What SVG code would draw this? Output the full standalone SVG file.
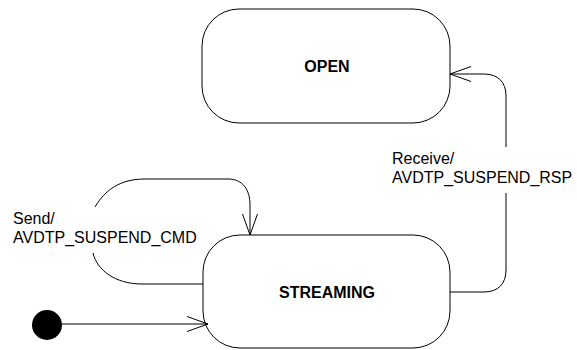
<svg xmlns="http://www.w3.org/2000/svg" width="577" height="350" viewBox="0 0 577 350">
<style>
.node{fill:#fff;stroke:#000;stroke-width:1}
.title{font-family:"Liberation Sans",Arial,sans-serif;font-size:16px;font-weight:bold;text-anchor:middle;fill:#000}
.lbl{font-family:"Liberation Sans",Arial,sans-serif;font-size:16px;fill:#000}
.edge{fill:none;stroke:#000;stroke-width:1}
</style>
<defs>
<marker id="arr" markerUnits="userSpaceOnUse" orient="auto" overflow="visible" markerWidth="1" markerHeight="1" refX="0" refY="0">
<path d="M-21,-7.5 L0,0 L-21,7.5" fill="none" stroke="#000" stroke-width="1"/>
</marker>
</defs>
<rect width="577" height="350" fill="#fff"/>
<g id="open">
<rect class="node" x="202" y="9" width="248" height="114" rx="37" ry="37"/>
<text class="title" x="327" y="72">OPEN</text>
</g>
<g id="streaming">
<rect class="node" x="203" y="235" width="247" height="113" rx="37" ry="37"/>
<text class="title" x="327" y="298">STREAMING</text>
</g>
<g id="initial">
<circle cx="47" cy="325" r="15" fill="#000"/>
</g>
<g id="connectors">
<path class="edge" d="M62,324 L208,324" marker-end="url(#arr)"/>
<path class="edge" d="M203,284 H142 C115,284 97,270 93,253"/>
<path class="edge" d="M95,207 C105,190 120,179 145,179 H228 C243,179 250,190 250,205 V235" marker-end="url(#arr)"/>
<path class="edge" d="M450,292 H484 C498,292 506,284 506,270 V193"/>
<path class="edge" d="M506,147 V96 C506,82 498,74 484,74 H450" marker-end="url(#arr)"/>
<text class="lbl" x="13" y="224">Send/</text>
<text class="lbl" x="13" y="243">AVDTP_SUSPEND_CMD</text>
<text class="lbl" x="392" y="164">Receive/</text>
<text class="lbl" x="392" y="183">AVDTP_SUSPEND_RSP</text>
</g>
</svg>
